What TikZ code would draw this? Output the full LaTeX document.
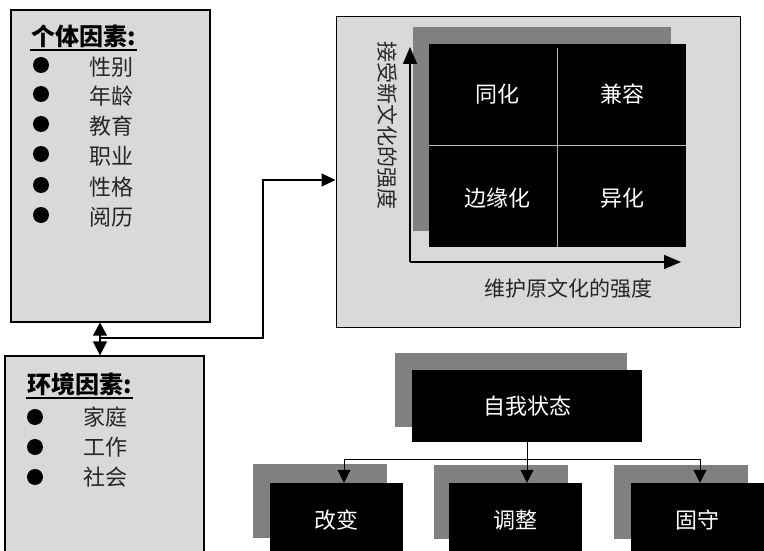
\documentclass[tikz,border=0pt]{standalone}
\usepackage{fontspec}
\setmainfont{Noto Sans CJK SC}
\usepackage{xcolor}
\usepackage{tikz}
\usetikzlibrary{arrows.meta, positioning, calc}
\definecolor{panelgray}{RGB}{217,217,217}
\definecolor{shadegray}{RGB}{128,128,128}

\begin{document}
\begin{tikzpicture}[
    x=1pt, y=-1pt,
    panel/.style={rectangle, draw=black, line width=1.2pt, fill=panelgray, inner sep=0pt},
    shade/.style={rectangle, fill=shadegray, inner sep=0pt},
    blk/.style={rectangle, fill=black, inner sep=0pt, text=white, font=\fontsize{22}{24}\selectfont},
    qlabel/.style={text=white, inner sep=0pt, font=\fontsize{22}{24}\selectfont},
    heading/.style={font=\fontsize{24}{26}\selectfont\bfseries, anchor=west, inner xsep=1pt, inner ysep=2.5pt},
    item/.style={font=\fontsize{22}{24}\selectfont, text=black!85, anchor=west, inner sep=0pt},
    dot/.style={circle, fill=black, minimum size=16pt, inner sep=0pt},
    axislabel/.style={font=\fontsize{21}{24}\selectfont, text=black!85, inner sep=0pt},
    arrowline/.style={-{Triangle[length=14pt, width=13pt]}, line width=1.3pt},
    treeline/.style={-{Triangle[length=13pt, width=13pt]}, line width=1pt},
]
\useasboundingbox (0,0) rectangle (764,551);
\clip (0,0) rectangle (764,551);

% Left panels
\node[panel, minimum width=199pt, minimum height=312pt] (persbox) at (110.5,166) {};
\node[panel, minimum width=199pt, minimum height=210pt] (envbox) at (104.5,461) {};

% Personal factors
\node[heading] (perstitle) at (30,36) {个体因素:};
\draw[line width=2pt] (perstitle.south west) -- (perstitle.south east);
\node[dot] (pd1) at (41,65) {};
\node[item] (pi1) at (89,67) {性别};
\node[dot] (pd2) at (41,94) {};
\node[item] (pi2) at (89,96) {年龄};
\node[dot] (pd3) at (41,124) {};
\node[item] (pi3) at (89,126) {教育};
\node[dot] (pd4) at (41,154) {};
\node[item] (pi4) at (89,156) {职业};
\node[dot] (pd5) at (41,185) {};
\node[item] (pi5) at (89,187) {性格};
\node[dot] (pd6) at (41,215) {};
\node[item] (pi6) at (89,217) {阅历};

% Environment factors
\node[heading] (envtitle) at (26,384) {环境因素:};
\draw[line width=2pt] (envtitle.south west) -- (envtitle.south east);
\node[dot] (ed1) at (35,417) {};
\node[item] (ei1) at (83,417) {家庭};
\node[dot] (ed2) at (35,447) {};
\node[item] (ei2) at (83,447) {工作};
\node[dot] (ed3) at (35,477) {};
\node[item] (ei3) at (83,477) {社会};

% Acculturation panel
\node[panel, line width=1pt, minimum width=404pt, minimum height=310pt] (culbox) at (538,172) {};
\node[shade, minimum width=258pt, minimum height=204pt] (quadshade) at (542,129) {};
\node[rectangle, fill=black, inner sep=0pt, minimum width=257pt, minimum height=203pt] (quad) at (557.5,145.5) {};
\draw[gray!55, line width=1pt] ([yshift=-4pt]quad.north) -- (quad.south);
\draw[gray!55, line width=1pt] (quad.west) -- (quad.east);
\node[qlabel] (assim) at (497,94) {同化};
\node[qlabel] (integ) at (622,94) {兼容};
\node[qlabel] (margin) at (497,198) {边缘化};
\node[qlabel] (separ) at (622,198) {异化};

% Axes
\coordinate (origin) at (410,262);
\coordinate (ytop) at (410,47);
\coordinate (xend) at (681,262);
\draw[-{Triangle[length=17pt, width=14pt]}, line width=1.5pt] (origin) -- (ytop);
\draw[-{Triangle[length=17pt, width=14pt]}, line width=1.5pt] (origin) -- (xend);
\node[axislabel, rotate=-90] (ylab) at (387,126) {接受新文化的强度};
\node[axislabel] (xlab) at (568,289) {维护原文化的强度};

% Links between panels
\coordinate (jn) at (100,338);
\coordinate (bend) at (263,180);
\draw[{Triangle[length=13pt, width=14pt]}-{Triangle[length=14pt, width=14pt]}, line width=1.3pt] (jn |- persbox.south) -- (jn |- envbox.north);
\draw[arrowline] (jn) -| (bend) -- (bend -| culbox.west);

% Self state tree
\node[shade, minimum width=232pt, minimum height=74pt] (selfshade) at (511,390) {};
\node[blk, minimum width=230pt, minimum height=72pt] (self) at (527,406) {自我状态};
\node[shade, minimum width=134pt, minimum height=74pt] (chgshade) at (320,501) {};
\node[blk, minimum width=133pt, minimum height=74pt] (change) at (336.5,520) {改变};
\node[shade, minimum width=134pt, minimum height=74pt] (adjshade) at (500.5,502) {};
\node[blk, minimum width=133pt, minimum height=74pt] (adjust) at (515.5,520) {调整};
\node[shade, minimum width=134pt, minimum height=74pt] (keepshade) at (681,502) {};
\node[blk, minimum width=133pt, minimum height=74pt] (keep) at (697.5,520) {固守};

\coordinate (bus) at (527,459);
\draw[treeline] (self.south) -- (self.south |- adjust.north);
\draw[treeline] (bus) -| ([xshift=7.5pt]change.north);
\draw[treeline] (bus) -| ([xshift=2.5pt]keep.north);

\end{tikzpicture}
\end{document}
